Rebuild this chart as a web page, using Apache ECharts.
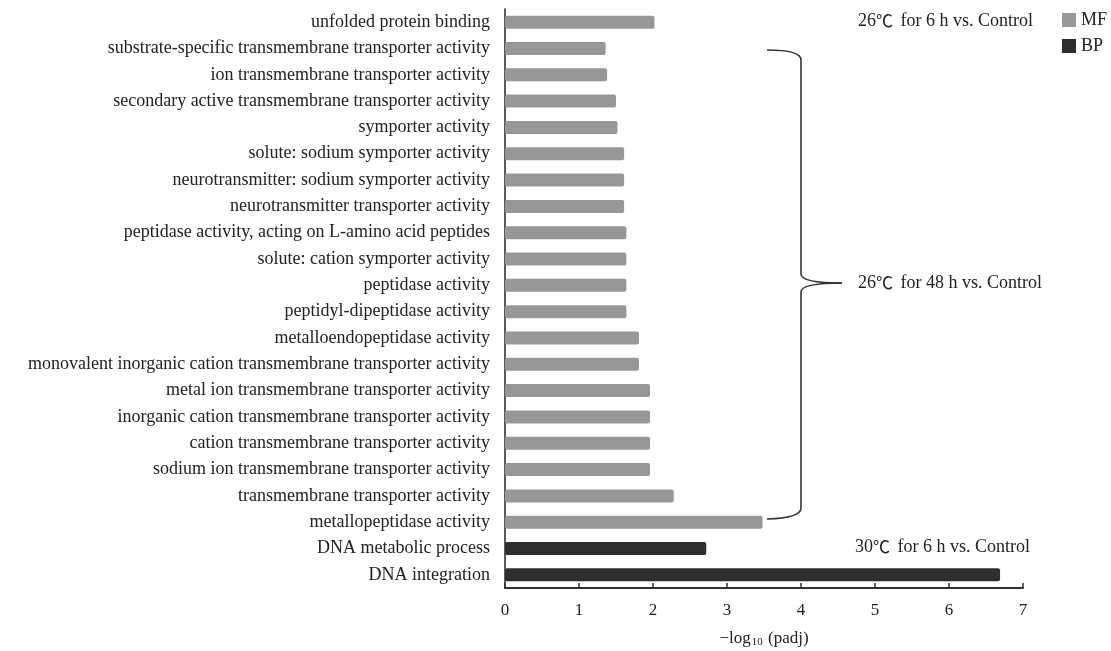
<!DOCTYPE html>
<html>
<head>
<meta charset="utf-8">
<script src="https://cdn.jsdelivr.net/npm/echarts@6/dist/echarts.min.js"></script>
<style>
  html, body { margin: 0; padding: 0; background: #fff; }
  #main { width: 1111px; height: 651px; }
</style>
</head>
<body>
<div id="main"></div>
<script>
// categories, top to bottom
var terms = [
  'unfolded protein binding',
  'substrate-specific transmembrane transporter activity',
  'ion transmembrane transporter activity',
  'secondary active transmembrane transporter activity',
  'symporter activity',
  'solute: sodium symporter activity',
  'neurotransmitter: sodium symporter activity',
  'neurotransmitter transporter activity',
  'peptidase activity, acting on L-amino acid peptides',
  'solute: cation symporter activity',
  'peptidase activity',
  'peptidyl-dipeptidase activity',
  'metalloendopeptidase activity',
  'monovalent inorganic cation transmembrane transporter activity',
  'metal ion transmembrane transporter activity',
  'inorganic cation transmembrane transporter activity',
  'cation transmembrane transporter activity',
  'sodium ion transmembrane transporter activity',
  'transmembrane transporter activity',
  'metallopeptidase activity',
  'DNA metabolic process',
  'DNA integration'
];
// -log10(padj), '-' = not in this group
var mfValues = [2.02, 1.36, 1.38, 1.50, 1.52, 1.61, 1.61, 1.61, 1.64, 1.64, 1.64, 1.64,
                1.81, 1.81, 1.96, 1.96, 1.96, 1.96, 2.28, 3.48, '-', '-'];
var bpValues = ['-', '-', '-', '-', '-', '-', '-', '-', '-', '-', '-', '-',
                '-', '-', '-', '-', '-', '-', '-', '-', 2.72, 6.69];
var xTicks = [0, 1, 2, 3, 4, 5, 6, 7];
var groupNotes = ['26{c|\u2103} for 6 h vs. Control', '26{c|\u2103} for 48 h vs. Control', '30{c|\u2103} for 6 h vs. Control'];

var serif = '"Liberation Serif", "Times New Roman", serif';
var cjk = '"Noto Sans CJK SC", sans-serif';
var chart = echarts.init(document.getElementById('main'));

var braceStyle = { fill: null, stroke: '#333', lineWidth: 1.6 };

function note(txt, x, y) {
  return {
    type: 'text', x: x, y: y,
    style: {
      text: txt,
      font: '18px ' + serif,
      fill: '#222',
      verticalAlign: 'middle',
      rich: { c: { fontFamily: cjk, fontSize: 17, fill: '#222', padding: [0, 3, 0, 0] } }
    }
  };
}

var option = {
  backgroundColor: '#fff',
  animation: false,
  textStyle: { fontFamily: serif },
  grid: { left: 505, right: 88, top: 9, bottom: 63, outerBoundsMode: 'none', containLabel: false },
  legend: {
    orient: 'vertical',
    right: 4,
    top: 11,
    padding: 0,
    itemWidth: 14,
    itemHeight: 14,
    itemGap: 8,
    icon: 'rect',
    textStyle: { fontFamily: serif, fontSize: 18, color: '#222' },
    data: ['MF', 'BP']
  },
  xAxis: {
    type: 'value',
    min: xTicks[0],
    max: xTicks[xTicks.length - 1],
    interval: 1,
    splitLine: { show: false },
    axisLine: { show: true, lineStyle: { color: '#3a2c2c', width: 2 } },
    axisTick: { show: true, inside: true, length: 5, lineStyle: { color: '#3a2c2c', width: 1.5 } },
    axisLabel: { fontFamily: serif, fontSize: 17, color: '#222', margin: 14 },
    name: '{a|\u2212log}{s|10}{a| (padj)}',
    nameLocation: 'middle',
    nameGap: 42,
    nameTextStyle: {
      rich: {
        a: { fontFamily: serif, fontSize: 17, color: '#222' },
        s: { fontFamily: serif, fontSize: 11, color: '#222', verticalAlign: 'bottom', padding: [7, 1, 0, 1] }
      }
    }
  },
  yAxis: {
    type: 'category',
    inverse: true,
    data: terms,
    axisLine: { show: true, lineStyle: { color: '#2a2020', width: 1.5 } },
    axisTick: { show: false },
    axisLabel: { fontFamily: serif, fontSize: 18, color: '#222', margin: 15 }
  },
  series: [
    {
      name: 'MF',
      type: 'bar',
      stack: 'go',
      barWidth: 13,
      data: mfValues,
      itemStyle: { color: '#979797', borderRadius: 2 }
    },
    {
      name: 'BP',
      type: 'bar',
      stack: 'go',
      barWidth: 13,
      data: bpValues,
      itemStyle: { color: '#2e2e2e', borderRadius: 2 }
    }
  ],
  graphic: [
    note(groupNotes[0], 858, 21),
    note(groupNotes[1], 858, 283),
    note(groupNotes[2], 855, 547),
    // curly brace
    { type: 'bezierCurve', shape: { x1: 767, y1: 50, cpx1: 801, cpy1: 50, x2: 801, y2: 60 }, style: braceStyle },
    { type: 'line', shape: { x1: 801, y1: 60, x2: 801, y2: 274 }, style: braceStyle },
    { type: 'bezierCurve', shape: { x1: 801, y1: 274, cpx1: 801, cpy1: 283, x2: 842, y2: 283 }, style: braceStyle },
    { type: 'bezierCurve', shape: { x1: 842, y1: 283, cpx1: 801, cpy1: 283, x2: 801, y2: 292 }, style: braceStyle },
    { type: 'line', shape: { x1: 801, y1: 292, x2: 801, y2: 508 }, style: braceStyle },
    { type: 'bezierCurve', shape: { x1: 801, y1: 508, cpx1: 801, cpy1: 518, x2: 767, y2: 519 }, style: braceStyle }
  ]
};
chart.setOption(option);
</script>
</body>
</html>
